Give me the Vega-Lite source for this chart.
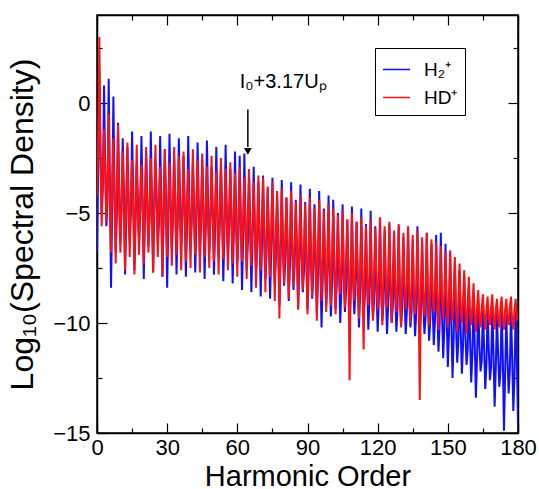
{
"$schema": "https://vega.github.io/schema/vega-lite/v6.json",
"width": 421, "height": 418,
"autosize": "none",
"padding": {"left": 97, "top": 15, "right": 21, "bottom": 56},
"config": {
 "font": "Liberation Sans",
 "view": {"stroke": "black", "strokeWidth": 1.5},
 "axis": {"grid": false, "domainColor": "black", "domainWidth": 1.5, "tickColor": "black", "tickWidth": 1.2, "labelColor": "black", "titleColor": "black", "labelFontSize": 22, "titleFontSize": 30, "titleFontWeight": "normal", "labelFont": "Liberation Sans", "titleFont": "Liberation Sans", "labelFlush": false, "labelOverlap": false}
},
"datasets": {
 "spec": [
{"h":0,"H2":-6.8,"HD":-4.2},{"h":0.5,"H2":-3.0,"HD":-2.0},{"h":1,"H2":1.5,"HD":3.0},{"h":1.5,"H2":-2.2,"HD":-2.8},{"h":2,"H2":-5.0,"HD":-5.6},{"h":2.5,"H2":-3.8,"HD":-3.3},{"h":3,"H2":0.8,"HD":-1.2},{"h":3.5,"H2":-2.9,"HD":-3.0},{"h":4,"H2":-5.6,"HD":-5.4},{"h":4.5,"H2":-4.5,"HD":-3.6},{"h":5,"H2":1.1,"HD":-0.5},{"h":5.5,"H2":-3.6,"HD":-4.2},{"h":6,"H2":-8.4,"HD":-6.8},{"h":6.5,"H2":-4.8,"HD":-3.5},{"h":7,"H2":0.3,"HD":-1.6},{"h":7.5,"H2":-3.9,"HD":-4.4},{"h":8,"H2":-6.8,"HD":-7.3},{"h":8.5,"H2":-5.0,"HD":-3.9},{"h":9,"H2":-0.9,"HD":-1.0},{"h":9.5,"H2":-4.2,"HD":-4.8},
{"h":10,"H2":-6.4,"HD":-6.8},{"h":10.5,"H2":-4.8,"HD":-4.1},{"h":11,"H2":-1.6,"HD":-2.2},{"h":11.5,"H2":-4.0,"HD":-4.9},{"h":12,"H2":-7.8,"HD":-7.6},{"h":12.5,"H2":-5.2,"HD":-4.3},{"h":13,"H2":-2.0,"HD":-1.8},{"h":13.5,"H2":-4.4,"HD":-5.1},{"h":14,"H2":-6.2,"HD":-7.0},{"h":14.5,"H2":-5.0,"HD":-4.0},{"h":15,"H2":-1.3,"HD":-2.6},{"h":15.5,"H2":-4.2,"HD":-4.7},{"h":16,"H2":-7.6,"HD":-7.8},{"h":16.5,"H2":-5.3,"HD":-4.4},{"h":17,"H2":-2.8,"HD":-1.9},{"h":17.5,"H2":-4.5,"HD":-5.2},{"h":18,"H2":-6.3,"HD":-6.9},{"h":18.5,"H2":-4.9,"HD":-4.2},{"h":19,"H2":-1.5,"HD":-2.8},{"h":19.5,"H2":-4.3,"HD":-4.9},
{"h":20,"H2":-8.0,"HD":-7.3},{"h":20.5,"H2":-5.1,"HD":-4.3},{"h":21,"H2":-2.2,"HD":-2.0},{"h":21.5,"H2":-4.4,"HD":-5.0},{"h":22,"H2":-6.5,"HD":-6.8},{"h":22.5,"H2":-5.3,"HD":-4.5},{"h":23,"H2":-1.3,"HD":-2.5},{"h":23.5,"H2":-4.5,"HD":-5.3},{"h":24,"H2":-7.7,"HD":-7.7},{"h":24.5,"H2":-5.0,"HD":-4.1},{"h":25,"H2":-2.6,"HD":-1.9},{"h":25.5,"H2":-4.3,"HD":-4.8},{"h":26,"H2":-6.4,"HD":-7.0},{"h":26.5,"H2":-5.4,"HD":-4.6},{"h":27,"H2":-1.5,"HD":-2.9},{"h":27.5,"H2":-4.6,"HD":-5.2},{"h":28,"H2":-7.9,"HD":-7.9},{"h":28.5,"H2":-5.2,"HD":-4.3},{"h":29,"H2":-2.1,"HD":-2.1},{"h":29.5,"H2":-4.4,"HD":-5.0},
{"h":30,"H2":-8.4,"HD":-7.0},{"h":30.5,"H2":-5.3,"HD":-4.4},{"h":31,"H2":-1.4,"HD":-2.7},{"h":31.5,"H2":-4.5,"HD":-5.2},{"h":32,"H2":-6.6,"HD":-7.4},{"h":32.5,"H2":-5.1,"HD":-4.6},{"h":33,"H2":-2.5,"HD":-2.0},{"h":33.5,"H2":-4.6,"HD":-5.0},{"h":34,"H2":-7.8,"HD":-6.9},{"h":34.5,"H2":-5.4,"HD":-4.3},{"h":35,"H2":-1.6,"HD":-2.4},{"h":35.5,"H2":-4.4,"HD":-5.3},{"h":36,"H2":-6.5,"HD":-7.6},{"h":36.5,"H2":-5.2,"HD":-4.7},{"h":37,"H2":-2.4,"HD":-2.2},{"h":37.5,"H2":-4.7,"HD":-5.1},{"h":38,"H2":-7.9,"HD":-7.2},{"h":38.5,"H2":-5.5,"HD":-4.5},{"h":39,"H2":-1.5,"HD":-3.0},{"h":39.5,"H2":-4.6,"HD":-5.4},
{"h":40,"H2":-6.6,"HD":-7.5},{"h":40.5,"H2":-5.3,"HD":-4.6},{"h":41,"H2":-2.7,"HD":-2.1},{"h":41.5,"H2":-4.7,"HD":-5.2},{"h":42,"H2":-7.7,"HD":-6.9},{"h":42.5,"H2":-5.5,"HD":-4.4},{"h":43,"H2":-1.8,"HD":-2.6},{"h":43.5,"H2":-4.6,"HD":-5.3},{"h":44,"H2":-6.8,"HD":-7.7},{"h":44.5,"H2":-5.4,"HD":-4.8},{"h":45,"H2":-2.6,"HD":-2.3},{"h":45.5,"H2":-4.8,"HD":-5.1},{"h":46,"H2":-8.0,"HD":-7.0},{"h":46.5,"H2":-5.6,"HD":-4.6},{"h":47,"H2":-1.7,"HD":-2.9},{"h":47.5,"H2":-4.7,"HD":-5.5},{"h":48,"H2":-6.7,"HD":-7.5},{"h":48.5,"H2":-5.4,"HD":-4.7},{"h":49,"H2":-2.9,"HD":-2.4},{"h":49.5,"H2":-4.9,"HD":-5.2},
{"h":50,"H2":-7.8,"HD":-7.2},{"h":50.5,"H2":-5.7,"HD":-4.8},{"h":51,"H2":-2.0,"HD":-3.1},{"h":51.5,"H2":-4.9,"HD":-5.5},{"h":52,"H2":-6.9,"HD":-7.8},{"h":52.5,"H2":-5.5,"HD":-4.6},{"h":53,"H2":-2.8,"HD":-2.5},{"h":53.5,"H2":-5.0,"HD":-5.4},{"h":54,"H2":-8.1,"HD":-7.1},{"h":54.5,"H2":-5.8,"HD":-4.9},{"h":55,"H2":-1.9,"HD":-3.0},{"h":55.5,"H2":-5.1,"HD":-5.6},{"h":56,"H2":-7.0,"HD":-7.6},{"h":56.5,"H2":-5.6,"HD":-4.8},{"h":57,"H2":-3.0,"HD":-2.7},{"h":57.5,"H2":-5.2,"HD":-5.3},{"h":58,"H2":-8.2,"HD":-7.3},{"h":58.5,"H2":-5.9,"HD":-5.0},{"h":59,"H2":-2.2,"HD":-3.2},{"h":59.5,"H2":-5.3,"HD":-5.7},
{"h":60,"H2":-7.2,"HD":-7.9},{"h":60.5,"H2":-6.0,"HD":-4.9},{"h":61,"H2":-2.4,"HD":-2.9},{"h":61.5,"H2":-5.3,"HD":-5.8},{"h":62,"H2":-8.5,"HD":-7.2},{"h":62.5,"H2":-6.1,"HD":-5.2},{"h":63,"H2":-2.3,"HD":-3.4},{"h":63.5,"H2":-5.5,"HD":-5.6},{"h":64,"H2":-7.6,"HD":-8.0},{"h":64.5,"H2":-6.3,"HD":-5.1},{"h":65,"H2":-3.2,"HD":-3.0},{"h":65.5,"H2":-5.6,"HD":-6.0},{"h":66,"H2":-8.6,"HD":-7.4},{"h":66.5,"H2":-6.2,"HD":-5.3},{"h":67,"H2":-2.9,"HD":-3.6},{"h":67.5,"H2":-5.8,"HD":-5.9},{"h":68,"H2":-7.8,"HD":-8.4},{"h":68.5,"H2":-6.5,"HD":-5.5},{"h":69,"H2":-3.6,"HD":-3.3},{"h":69.5,"H2":-5.9,"HD":-6.2},
{"h":70,"H2":-8.8,"HD":-7.6},{"h":70.5,"H2":-6.6,"HD":-5.4},{"h":71,"H2":-3.3,"HD":-3.4},{"h":71.5,"H2":-6.0,"HD":-6.1},{"h":72,"H2":-8.0,"HD":-8.6},{"h":72.5,"H2":-6.8,"HD":-5.7},{"h":73,"H2":-3.9,"HD":-3.8},{"h":73.5,"H2":-6.1,"HD":-6.4},{"h":74,"H2":-8.9,"HD":-7.9},{"h":74.5,"H2":-6.7,"HD":-5.6},{"h":75,"H2":-3.4,"HD":-3.6},{"h":75.5,"H2":-6.2,"HD":-6.3},{"h":76,"H2":-8.2,"HD":-9.0},{"h":76.5,"H2":-7.0,"HD":-5.9},{"h":77,"H2":-4.2,"HD":-4.0},{"h":77.5,"H2":-6.4,"HD":-6.6},{"h":78,"H2":-9.2,"HD":-9.8},{"h":78.5,"H2":-7.1,"HD":-5.8},{"h":79,"H2":-3.5,"HD":-3.9},{"h":79.5,"H2":-6.5,"HD":-6.5},
{"h":80,"H2":-8.3,"HD":-8.2},{"h":80.5,"H2":-7.2,"HD":-6.0},{"h":81,"H2":-4.3,"HD":-4.3},{"h":81.5,"H2":-6.6,"HD":-6.8},{"h":82,"H2":-9.0,"HD":-8.9},{"h":82.5,"H2":-7.3,"HD":-6.1},{"h":83,"H2":-3.6,"HD":-4.0},{"h":83.5,"H2":-6.7,"HD":-6.6},{"h":84,"H2":-8.5,"HD":-8.3},{"h":84.5,"H2":-7.4,"HD":-6.3},{"h":85,"H2":-4.4,"HD":-4.5},{"h":85.5,"H2":-6.8,"HD":-7.0},{"h":86,"H2":-9.3,"HD":-9.4},{"h":86.5,"H2":-7.5,"HD":-6.2},{"h":87,"H2":-3.7,"HD":-4.2},{"h":87.5,"H2":-6.9,"HD":-6.9},{"h":88,"H2":-8.6,"HD":-8.5},{"h":88.5,"H2":-7.6,"HD":-6.5},{"h":89,"H2":-4.5,"HD":-4.6},{"h":89.5,"H2":-7.0,"HD":-7.1},
{"h":90,"H2":-9.4,"HD":-9.6},{"h":90.5,"H2":-7.7,"HD":-6.4},{"h":91,"H2":-3.9,"HD":-4.3},{"h":91.5,"H2":-7.1,"HD":-7.2},{"h":92,"H2":-8.9,"HD":-8.8},{"h":92.5,"H2":-7.8,"HD":-6.7},{"h":93,"H2":-4.6,"HD":-4.8},{"h":93.5,"H2":-7.2,"HD":-7.0},{"h":94,"H2":-9.6,"HD":-9.9},{"h":94.5,"H2":-7.9,"HD":-6.6},{"h":95,"H2":-4.0,"HD":-4.4},{"h":95.5,"H2":-7.3,"HD":-7.4},{"h":96,"H2":-10.2,"HD":-9.0},{"h":96.5,"H2":-8.0,"HD":-6.8},{"h":97,"H2":-4.8,"HD":-4.9},{"h":97.5,"H2":-7.4,"HD":-7.3},{"h":98,"H2":-9.2,"HD":-9.5},{"h":98.5,"H2":-8.1,"HD":-7.0},{"h":99,"H2":-4.2,"HD":-4.6},{"h":99.5,"H2":-7.5,"HD":-7.5},
{"h":100,"H2":-9.7,"HD":-9.2},{"h":100.5,"H2":-8.2,"HD":-6.9},{"h":101,"H2":-4.4,"HD":-4.8},{"h":101.5,"H2":-7.6,"HD":-7.7},{"h":102,"H2":-9.4,"HD":-9.6},{"h":102.5,"H2":-8.3,"HD":-7.1},{"h":103,"H2":-5.0,"HD":-5.1},{"h":103.5,"H2":-7.7,"HD":-7.5},{"h":104,"H2":-10.0,"HD":-8.7},{"h":104.5,"H2":-8.4,"HD":-7.2},{"h":105,"H2":-4.6,"HD":-4.9},{"h":105.5,"H2":-7.8,"HD":-7.9},{"h":106,"H2":-9.5,"HD":-9.3},{"h":106.5,"H2":-8.5,"HD":-7.1},{"h":107,"H2":-5.3,"HD":-5.3},{"h":107.5,"H2":-7.9,"HD":-7.7},{"h":108,"H2":-10.1,"HD":-12.6},{"h":108.5,"H2":-8.6,"HD":-7.4},{"h":109,"H2":-4.7,"HD":-5.0},{"h":109.5,"H2":-8.0,"HD":-8.0},
{"h":110,"H2":-9.6,"HD":-9.0},{"h":110.5,"H2":-8.6,"HD":-7.3},{"h":111,"H2":-5.4,"HD":-5.4},{"h":111.5,"H2":-8.0,"HD":-7.9},{"h":112,"H2":-10.2,"HD":-9.8},{"h":112.5,"H2":-8.7,"HD":-7.6},{"h":113,"H2":-4.8,"HD":-5.2},{"h":113.5,"H2":-8.1,"HD":-8.1},{"h":114,"H2":-9.7,"HD":-11.2},{"h":114.5,"H2":-8.8,"HD":-7.5},{"h":115,"H2":-5.5,"HD":-5.6},{"h":115.5,"H2":-8.2,"HD":-8.0},{"h":116,"H2":-10.3,"HD":-9.2},{"h":116.5,"H2":-8.9,"HD":-7.7},{"h":117,"H2":-4.9,"HD":-5.3},{"h":117.5,"H2":-8.3,"HD":-8.3},{"h":118,"H2":-9.8,"HD":-9.9},{"h":118.5,"H2":-8.9,"HD":-7.6},{"h":119,"H2":-5.6,"HD":-5.7},{"h":119.5,"H2":-8.4,"HD":-8.2},
{"h":120,"H2":-10.4,"HD":-9.4},{"h":120.5,"H2":-9.0,"HD":-7.8},{"h":121,"H2":-5.2,"HD":-5.2},{"h":121.5,"H2":-8.4,"HD":-8.4},{"h":122,"H2":-9.9,"HD":-10.1},{"h":122.5,"H2":-9.1,"HD":-7.7},{"h":123,"H2":-5.8,"HD":-5.6},{"h":123.5,"H2":-8.5,"HD":-8.2},{"h":124,"H2":-10.5,"HD":-9.3},{"h":124.5,"H2":-9.1,"HD":-7.9},{"h":125,"H2":-5.5,"HD":-5.4},{"h":125.5,"H2":-8.6,"HD":-8.5},{"h":126,"H2":-10.0,"HD":-10.0},{"h":126.5,"H2":-9.2,"HD":-7.8},{"h":127,"H2":-6.0,"HD":-5.8},{"h":127.5,"H2":-8.7,"HD":-8.4},{"h":128,"H2":-10.4,"HD":-9.5},{"h":128.5,"H2":-9.3,"HD":-8.1},{"h":129,"H2":-5.6,"HD":-5.5},{"h":129.5,"H2":-8.7,"HD":-8.6},
{"h":130,"H2":-10.1,"HD":-10.2},{"h":130.5,"H2":-9.3,"HD":-8.0},{"h":131,"H2":-6.1,"HD":-5.9},{"h":131.5,"H2":-8.8,"HD":-8.5},{"h":132,"H2":-10.5,"HD":-9.4},{"h":132.5,"H2":-9.4,"HD":-8.2},{"h":133,"H2":-5.7,"HD":-5.6},{"h":133.5,"H2":-8.9,"HD":-8.7},{"h":134,"H2":-10.2,"HD":-10.0},{"h":134.5,"H2":-9.5,"HD":-8.1},{"h":135,"H2":-6.2,"HD":-6.0},{"h":135.5,"H2":-8.9,"HD":-8.6},{"h":136,"H2":-10.6,"HD":-9.6},{"h":136.5,"H2":-9.5,"HD":-8.3},{"h":137,"H2":-5.6,"HD":-5.8},{"h":137.5,"H2":-9.0,"HD":-8.8},{"h":138,"H2":-10.3,"HD":-13.5},{"h":138.5,"H2":-9.6,"HD":-8.2},{"h":139,"H2":-6.3,"HD":-6.1},{"h":139.5,"H2":-9.1,"HD":-8.7},
{"h":140,"H2":-10.5,"HD":-9.7},{"h":140.5,"H2":-9.7,"HD":-8.4},{"h":141,"H2":-5.9,"HD":-5.9},{"h":141.5,"H2":-9.2,"HD":-8.9},{"h":142,"H2":-10.8,"HD":-10.1},{"h":142.5,"H2":-9.8,"HD":-8.3},{"h":143,"H2":-6.4,"HD":-6.2},{"h":143.5,"H2":-9.3,"HD":-8.8},{"h":144,"H2":-11.0,"HD":-9.5},{"h":144.5,"H2":-9.9,"HD":-8.5},{"h":145,"H2":-6.0,"HD":-6.3},{"h":145.5,"H2":-9.4,"HD":-9.0},{"h":146,"H2":-11.3,"HD":-10.3},{"h":146.5,"H2":-10.1,"HD":-8.4},{"h":147,"H2":-5.9,"HD":-6.5},{"h":147.5,"H2":-9.5,"HD":-8.9},{"h":148,"H2":-11.6,"HD":-9.8},{"h":148.5,"H2":-10.3,"HD":-8.6},{"h":149,"H2":-6.4,"HD":-6.8},{"h":149.5,"H2":-9.7,"HD":-9.1},
{"h":150,"H2":-12.0,"HD":-10.2},{"h":150.5,"H2":-10.5,"HD":-8.7},{"h":151,"H2":-6.8,"HD":-6.7},{"h":151.5,"H2":-9.9,"HD":-9.2},{"h":152,"H2":-12.5,"HD":-9.9},{"h":152.5,"H2":-10.7,"HD":-8.8},{"h":153,"H2":-7.2,"HD":-7.0},{"h":153.5,"H2":-10.1,"HD":-9.3},{"h":154,"H2":-11.8,"HD":-10.4},{"h":154.5,"H2":-10.9,"HD":-8.9},{"h":155,"H2":-7.6,"HD":-7.3},{"h":155.5,"H2":-10.3,"HD":-9.4},{"h":156,"H2":-12.3,"HD":-10.0},{"h":156.5,"H2":-11.0,"HD":-9.0},{"h":157,"H2":-7.9,"HD":-7.6},{"h":157.5,"H2":-10.5,"HD":-9.5},{"h":158,"H2":-11.9,"HD":-10.5},{"h":158.5,"H2":-11.2,"HD":-9.1},{"h":159,"H2":-8.3,"HD":-7.9},{"h":159.5,"H2":-10.7,"HD":-9.6},
{"h":160,"H2":-12.7,"HD":-10.1},{"h":160.5,"H2":-11.4,"HD":-9.2},{"h":161,"H2":-8.7,"HD":-8.2},{"h":161.5,"H2":-10.9,"HD":-9.7},{"h":162,"H2":-13.4,"HD":-10.4},{"h":162.5,"H2":-11.6,"HD":-9.3},{"h":163,"H2":-9.0,"HD":-8.5},{"h":163.5,"H2":-11.0,"HD":-9.8},{"h":164,"H2":-12.2,"HD":-10.2},{"h":164.5,"H2":-11.7,"HD":-9.3},{"h":165,"H2":-9.2,"HD":-8.7},{"h":165.5,"H2":-11.1,"HD":-9.7},{"h":166,"H2":-13.0,"HD":-10.3},{"h":166.5,"H2":-11.9,"HD":-9.4},{"h":167,"H2":-9.4,"HD":-8.8},{"h":167.5,"H2":-11.2,"HD":-9.8},{"h":168,"H2":-12.6,"HD":-10.1},{"h":168.5,"H2":-12.0,"HD":-9.3},{"h":169,"H2":-9.3,"HD":-8.7},{"h":169.5,"H2":-11.3,"HD":-9.8},
{"h":170,"H2":-13.8,"HD":-10.3},{"h":170.5,"H2":-12.1,"HD":-9.4},{"h":171,"H2":-9.5,"HD":-8.9},{"h":171.5,"H2":-11.4,"HD":-9.8},{"h":172,"H2":-12.9,"HD":-10.2},{"h":172.5,"H2":-12.2,"HD":-9.3},{"h":173,"H2":-9.4,"HD":-8.8},{"h":173.5,"H2":-11.5,"HD":-9.9},{"h":174,"H2":-14.9,"HD":-10.3},{"h":174.5,"H2":-12.3,"HD":-9.4},{"h":175,"H2":-9.6,"HD":-8.9},{"h":175.5,"H2":-11.6,"HD":-9.8},{"h":176,"H2":-13.2,"HD":-10.1},{"h":176.5,"H2":-12.2,"HD":-9.3},{"h":177,"H2":-9.5,"HD":-8.8},{"h":177.5,"H2":-11.5,"HD":-9.9},{"h":178,"H2":-14.0,"HD":-10.3},{"h":178.5,"H2":-12.4,"HD":-9.4},{"h":179,"H2":-9.4,"HD":-8.9},{"h":179.5,"H2":-11.6,"HD":-9.8},
{"h":180,"H2":-14.6,"HD":-9.7}
 ],
 "ann": [{"h": 64.5, "top": -0.3, "tip": -2.0, "head": -2.2, "tx": 61, "ty": 0.68, "label": "I₀+3.17Uₚ"}]
},
"layer": [
 {
  "data": {"name": "spec"},
  "transform": [{"fold": ["H2", "HD"], "as": ["s", "v"]}, {"filter": "datum.s == 'H2'"}],
  "mark": {"type": "line", "strokeWidth": 2, "clip": true},
  "encoding": {
   "x": {"field": "h", "type": "quantitative", "scale": {"domain": [0, 180], "nice": false, "zero": false},
    "axis": {"orient": "bottom", "values": [0,15,30,45,60,75,90,105,120,135,150,165,180], "labelExpr": "datum.value % 30 === 0 ? datum.label : ''", "tickSize": {"condition": {"test": "datum.value % 30 === 0", "value": -10}, "value": -5}, "labelPadding": 14, "title": "Harmonic Order", "titleFontSize": 29, "titlePadding": -1}},
   "y": {"field": "v", "type": "quantitative", "scale": {"domain": [-15, 4], "nice": false, "zero": false},
    "axis": {"orient": "left", "values": [-15,-12.5,-10,-7.5,-5,-2.5,0,2.5], "labelExpr": "datum.value % 5 === 0 ? datum.label : ''", "tickSize": {"condition": {"test": "datum.value % 5 === 0", "value": -10}, "value": -5}, "labelPadding": 17, "title": "Log₁₀(Spectral Density)", "titleFontSize": 32, "titlePadding": 13}},
   "color": {"field": "s", "type": "nominal", "scale": {"domain": ["H2", "HD"], "range": ["#1010ff", "#ff1010"]},
    "legend": {"orient": "none", "legendX": 278, "legendY": 33, "title": null, "strokeColor": "black", "fillColor": "white", "padding": 7, "symbolType": "stroke", "symbolSize": 729, "symbolStrokeWidth": 1.5, "labelFontSize": 19, "labelFont": "Liberation Sans", "labelColor": "black", "labelOffset": 13, "rowPadding": 3, "labelExpr": "datum.value == 'H2' ? 'H₂⁺' : 'HD⁺'"}}
  }
 },
 {
  "data": {"name": "spec"},
  "transform": [{"fold": ["H2", "HD"], "as": ["s", "v"]}, {"filter": "datum.s == 'HD'"}],
  "mark": {"type": "line", "strokeWidth": 2, "clip": true},
  "encoding": {
   "x": {"field": "h", "type": "quantitative",
    "axis": {"orient": "top", "values": [0,15,30,45,60,75,90,105,120,135,150,165,180], "labels": false, "title": null, "tickSize": {"condition": {"test": "datum.value % 30 === 0", "value": -10}, "value": -5}}},
   "y": {"field": "v", "type": "quantitative",
    "axis": {"orient": "right", "values": [-15,-12.5,-10,-7.5,-5,-2.5,0,2.5], "labels": false, "title": null, "tickSize": {"condition": {"test": "datum.value % 5 === 0", "value": -10}, "value": -5}}},
   "color": {"field": "s", "type": "nominal"}
  }
 },
 {
  "data": {"name": "ann"},
  "mark": {"type": "rule", "strokeWidth": 1.5, "color": "black"},
  "encoding": {
   "x": {"field": "h", "type": "quantitative", "axis": null},
   "y": {"field": "top", "type": "quantitative", "axis": null},
   "y2": {"field": "tip"}
  }
 },
 {
  "data": {"name": "ann"},
  "mark": {"type": "point", "shape": "triangle-down", "filled": true, "color": "black", "size": 60, "opacity": 1},
  "encoding": {
   "x": {"field": "h", "type": "quantitative", "axis": null},
   "y": {"field": "head", "type": "quantitative", "axis": null}
  }
 },
 {
  "data": {"name": "ann"},
  "mark": {"type": "text", "align": "left", "baseline": "alphabetic", "fontSize": 20, "color": "black", "font": "Liberation Sans"},
  "encoding": {
   "x": {"field": "tx", "type": "quantitative", "axis": null},
   "y": {"field": "ty", "type": "quantitative", "axis": null},
   "text": {"field": "label"}
  }
 }
],
"resolve": {"axis": {"x": "independent", "y": "independent"}}
}
